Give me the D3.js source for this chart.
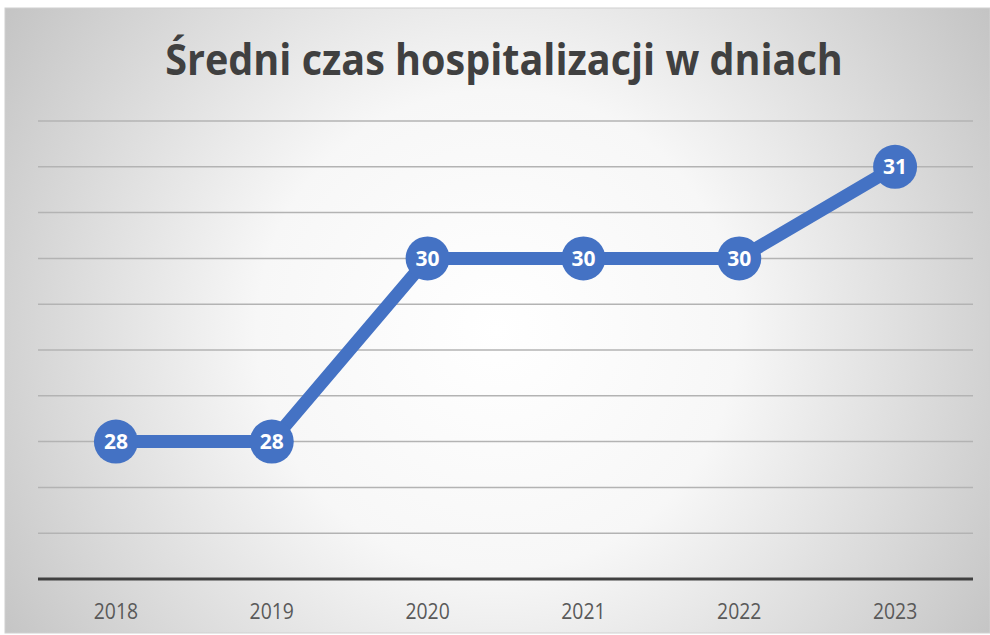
<!DOCTYPE html>
<html lang="pl">
<head>
  <meta charset="UTF-8">
  <title>Średni czas hospitalizacji w dniach</title>
  <script src="https://d3js.org/d3.v7.min.js"></script>
  <style>
    html, body { margin:0; padding:0; background:#fff; }
    svg { display:block; }
    .grid line { stroke:#b3b3b3; stroke-width:1.5px; }
    .xlab { font:22px "Open Sans", sans-serif; fill:#595959; }
    .dlab { font:700 21px "Open Sans", sans-serif; fill:#fff; }
  </style>
</head>
<body>
<svg id="chart" width="990" height="635"></svg>
<script>
  const title = "Średni czas hospitalizacji w dniach";
  const years = ["2018", "2019", "2020", "2021", "2022", "2023"];
  const days = [28, 28, 30, 30, 30, 31];
  const gridTicks = [27, 27.5, 28, 28.5, 29, 29.5, 30, 30.5, 31, 31.5];

  const svg = d3.select("#chart");
  const defs = svg.append("defs");
  const grad = defs.append("radialGradient")
    .attr("id", "bg").attr("gradientUnits", "userSpaceOnUse")
    .attr("cx", 497).attr("cy", 330).attr("r", 600);
  grad.append("stop").attr("offset", "0%").attr("stop-color", "#ffffff");
  grad.append("stop").attr("offset", "40%").attr("stop-color", "#f7f7f7");
  grad.append("stop").attr("offset", "100%").attr("stop-color", "#c2c2c2");

  svg.append("rect")
    .attr("x", 5).attr("y", 8).attr("width", 985).attr("height", 625)
    .attr("fill", "url(#bg)").attr("stroke", "#d0d0d0");

  const plot = {left:38, right:973, top:121, bottom:579};

  const x = d3.scalePoint().domain(years)
    .range([plot.left, plot.right]).padding(0.5);
  const y = d3.scaleLinear().domain([26.5, 31.5])
    .range([plot.bottom, plot.top]);

  svg.append("g").attr("class", "grid")
    .selectAll("line").data(gridTicks).join("line")
      .attr("x1", plot.left).attr("x2", plot.right)
      .attr("y1", d => y(d)).attr("y2", d => y(d));

  svg.append("line")
    .attr("x1", plot.left).attr("x2", plot.right)
    .attr("y1", y(26.5)).attr("y2", y(26.5))
    .attr("stroke", "#404040").attr("stroke-width", 3);

  // narrow-ish labels, like the Calibri original
  svg.append("g").selectAll("text").data(years).join("text")
    .attr("class", "xlab")
    .attr("transform", d => `translate(${x(d)},619) scale(0.88,1)`)
    .attr("text-anchor", "middle")
    .text(d => d);

  const pts = years.map((yr, i) => ({yr, v: days[i]}));

  svg.append("path")
    .datum(pts)
    .attr("fill", "none").attr("stroke", "#4472c4")
    .attr("stroke-width", 13).attr("stroke-linejoin", "round")
    .attr("d", d3.line().x(d => x(d.yr)).y(d => y(d.v)));

  const mk = svg.append("g").selectAll("g").data(pts).join("g")
    .attr("transform", d => `translate(${x(d.yr)},${y(d.v)})`);
  mk.append("circle").attr("r", 22).attr("fill", "#4472c4");
  mk.append("text").attr("class", "dlab")
    .attr("text-anchor", "middle").attr("dy", "0.36em")
    .text(d => d.v);

  const t = svg.append("text")
    .attr("text-anchor", "middle")
    .style("font-family", "'Open Sans', sans-serif")
    .style("font-weight", 700)
    .style("font-size", "43px")
    .attr("fill", "#404040")
    .text(title);
  // squeeze to ~678px wide like the original
  const w = t.node().getComputedTextLength();
  t.attr("transform", `translate(504,75) scale(${(678 / w).toFixed(3)},1)`);
</script>
</body>
</html>
